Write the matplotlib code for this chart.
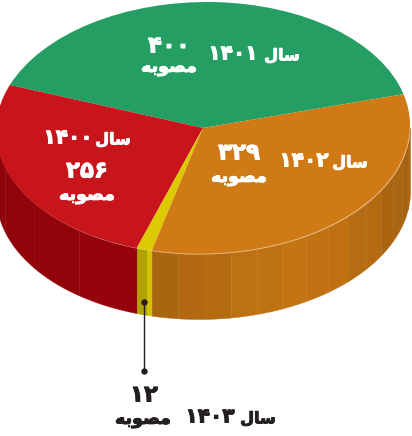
import numpy as np
import matplotlib
matplotlib.use("Agg")
import matplotlib.pyplot as plt
import matplotlib.patheffects as pe
from matplotlib.transforms import Affine2D

plt.rcParams['font.family'] = ['DejaVu Sans']

# slices, counter clockwise from the green/orange boundary
years = ["1401", "1400", "1403", "1402"]
values = [400, 256, 12, 329]
top_colors = ["#259e63", "#c8141b", "#dcc900", "#cf7a14"]
wall_colors = ["#259e63", "#96040a", "#b0a000", "#bb6f12"]

# presentation forms in visual order, matplotlib does no shaping
SAL = "\uFEDD\uFE8E\uFEB3"
MOSAVABE = "\uFEEA\uFE91\uFEEE\uFEBC\uFEE3"
FA_DIGITS = str.maketrans("0123456789", "۰۱۲۳۴۵۶۷۸۹")


def fa(n):
    return str(n).translate(FA_DIGITS)


W, H = 412, 436
CX, CY, RX, RY = 203, 128, 207, 126
DEPTH = 65 / RY
START = 15.6
SHEAR = 0.02  # the ellipse leans a little in the original

fig = plt.figure(figsize=(W / 100, H / 100), dpi=100)
ax = fig.add_axes([0, 0, 1, 1])

wedges, _ = ax.pie(values, colors=top_colors, startangle=START, radius=1, center=(0, 0),
                   wedgeprops={'linewidth': 0, 'zorder': 3})
ax.set_aspect('auto')
ax.set_xlim(-CX / RX, (W - CX) / RX)
ax.set_ylim(-(H - CY) / RY, CY / RY)
ax.axis('off')
for w in wedges:
    w.set_transform(Affine2D.from_values(1, 0, SHEAR, 1, 0, 0) + ax.transData)

# side wall, facets so the shading stays visible
edges = START + np.cumsum([0] + values) / sum(values) * 360
for i in range(len(values)):
    t0, t1 = max(edges[i], 180), min(edges[i + 1], 360 + START)
    if i == 3:
        t1 = 360
    if t1 <= t0:
        continue
    step = {1: 16, 2: 1.2, 3: 7}.get(i, 7)
    n = max(1, int((t1 - t0) / step))
    bounds = np.linspace(t0, t1, n + 1)
    for a, b in zip(bounds[:-1], bounds[1:]):
        th = np.radians(np.linspace(a, b, 12))
        mid = (a + b) / 2
        shade = 1.0
        if i == 3:
            shade = 0.88 + 0.17 * np.exp(-((mid - 298) / 32) ** 2)
            shade *= 0.985 if int(mid / 7) % 2 else 1.0
        elif i == 1:
            shade = 0.95 + 0.05 * (mid - 180) / 75
        elif i == 2 and b == t1:
            shade = 1.2
        c = np.clip(np.array(matplotlib.colors.to_rgb(wall_colors[i])) * shade, 0, 1)
        ax.fill_between(np.cos(th) + SHEAR * np.sin(th), np.sin(th), np.sin(th) - DEPTH,
                        color=c, linewidth=0.3, zorder=2)

# light rim on the front edge of the top
th = np.radians(np.linspace(edges[3], 360, 200))
ax.plot(np.cos(th) + SHEAR * np.sin(th), np.sin(th), color="#e8b070", lw=0.6, alpha=0.7, zorder=4)


def px(x, y):
    return (x - CX) / RX, (CY - y) / RY


def label(x, y, s, size, color="white"):
    ax.text(*px(x, y), s, fontsize=size, color=color, fontweight='bold',
            ha='center', va='center', zorder=6,
            path_effects=[pe.withStroke(linewidth=0.7, foreground=color)])


# year + value + word per slice
label(233, 54, fa(years[0]), 14.5)
label(282, 56, SAL, 11.5)
label(169, 46, fa(values[0]), 16.5)
label(169, 67, MOSAVABE, 12.5)

label(68, 138, fa(years[1]), 14.5)
label(113, 140, SAL, 11.5)
label(87, 171, fa(values[1]), 16.5)
label(87, 195, MOSAVABE, 12.5)

label(304, 161, fa(years[3]), 14.5)
label(350, 163, SAL, 11.5)
label(239, 153, fa(values[3]), 16.5)
label(239, 177, MOSAVABE, 12.5)

# callout for the thin slice
ink = "#231f20"
ax.plot(*zip(px(143.5, 302), px(143.5, 371)), color=ink, lw=1, zorder=5)
ax.plot(*zip(px(143.5, 302), px(143.5, 371)), 'o', color=ink, ms=3.6, zorder=5)
label(144, 395, fa(values[2]), 16.5, ink)
label(210, 417, fa(years[2]), 14.5, ink)
label(258, 419, SAL, 11.5, ink)
label(143, 419, MOSAVABE, 12.5, ink)

fig.savefig("out.png", dpi=100)
